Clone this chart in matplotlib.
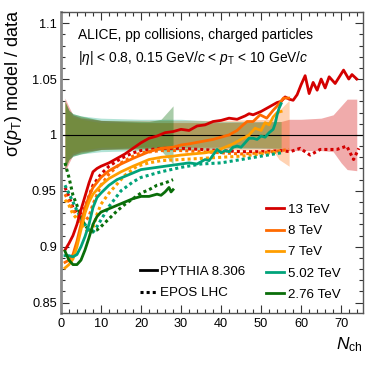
import numpy as np
import matplotlib
matplotlib.use('Agg')
import matplotlib.pyplot as plt
from matplotlib.lines import Line2D
from matplotlib.ticker import MultipleLocator

plt.rcParams['font.family'] = ['Liberation Sans', 'DejaVu Sans']
plt.rcParams['mathtext.fontset'] = 'custom'
plt.rcParams['mathtext.rm'] = 'Liberation Sans'
plt.rcParams['mathtext.it'] = 'Liberation Sans:italic'

energies = ['13 TeV', '8 TeV', '7 TeV', '5.02 TeV', '2.76 TeV']
colors = ['#d40000', '#ff6a00', '#ff9e00', '#00a37a', '#0a6e0a']

# PYTHIA 8.306 / data
py_x = {
    '13 TeV': [1, 2, 3, 4, 5, 6, 7, 8, 9, 10, 12, 14, 16, 18, 20, 22, 24, 26, 28, 30, 32, 34, 36, 38, 40, 42, 44, 46, 47,
               48, 50, 51.5, 53, 54, 55, 56, 57, 58, 59, 60, 61, 62, 63, 64, 65, 66, 67, 68.5, 70.6, 71.9, 72.7, 73.9],
    '8 TeV': [1, 2, 3, 4, 5, 6, 7, 8, 10, 12, 15, 18, 20, 22, 25, 28, 30, 32, 35, 38, 40, 42, 44, 45.5, 46.5, 48,
              49.75, 51.4, 53, 54.3, 55.6, 56.9],
    '7 TeV': [1, 2, 3, 4, 5, 6, 7, 8, 10, 12, 15, 18, 20, 22, 25, 28, 30, 33, 36, 39, 41, 43, 45, 47, 48.5, 50, 51,
              52, 53, 54, 55],
    '5.02 TeV': [1, 2, 3, 4, 5, 6, 7, 8, 9, 10, 12, 14, 16, 18, 20, 22, 24, 26, 28, 30, 32, 34, 36, 37, 38, 39, 40,
                 41, 42, 43, 44, 45, 46, 47, 48, 49, 50, 51, 52, 53, 53.5, 54, 54.5, 55],
    '2.76 TeV': [1, 2, 3, 4, 5, 6, 7, 8, 9, 10, 12, 14, 16, 18, 20, 22, 24, 25, 26, 27, 27.5, 28],
}
py_y = {
    '13 TeV': [0.897, 0.903, 0.910, 0.920, 0.933, 0.945, 0.957, 0.967, 0.970, 0.972, 0.975, 0.979, 0.983, 0.988, 0.993,
               0.997, 0.999, 1.002, 1.003, 1.005, 1.004, 1.008, 1.009, 1.012, 1.013, 1.015, 1.014, 1.017, 1.019,
               1.018, 1.021, 1.024, 1.027, 1.029, 1.030, 1.034, 1.032, 1.031, 1.036, 1.045, 1.053, 1.037, 1.047,
               1.040, 1.050, 1.042, 1.052, 1.046, 1.058, 1.050, 1.054, 1.050],
    '8 TeV': [0.886, 0.888, 0.893, 0.905, 0.920, 0.935, 0.945, 0.953, 0.962, 0.968, 0.974, 0.979, 0.982, 0.985, 0.988,
              0.989, 0.991, 0.992, 0.994, 0.996, 0.998, 1.000, 1.004, 1.009, 1.012, 1.012, 1.018, 1.015, 1.022,
              1.027, 1.033, 1.033],
    '7 TeV': [0.881, 0.884, 0.889, 0.900, 0.915, 0.930, 0.940, 0.947, 0.955, 0.961, 0.967, 0.972, 0.975, 0.978, 0.980,
              0.981, 0.982, 0.983, 0.984, 0.986, 0.989, 0.992, 0.996, 1.000, 1.006, 1.004, 1.011, 1.009, 1.016,
              1.020, 1.021],
    '5.02 TeV': [0.892, 0.892, 0.891, 0.893, 0.900, 0.909, 0.920, 0.935, 0.944, 0.948, 0.955, 0.960, 0.963, 0.966,
                 0.969, 0.970, 0.971, 0.972, 0.973, 0.974, 0.975, 0.974, 0.978, 0.977, 0.982, 0.987, 0.984, 0.986,
                 0.985, 0.989, 0.990, 0.989, 0.993, 0.997, 0.997, 0.996, 0.999, 0.998, 1.002, 1.005, 1.010, 1.018,
                 1.024, 1.028],
    '2.76 TeV': [0.896, 0.888, 0.884, 0.884, 0.888, 0.897, 0.908, 0.920, 0.927, 0.931, 0.934, 0.937, 0.940, 0.943,
                 0.945, 0.945, 0.947, 0.946, 0.949, 0.953, 0.949, 0.951],
}

# EPOS LHC / data
ep_x = {
    '13 TeV': [1, 2, 3, 4, 5, 6, 7, 8, 10, 12, 15, 18, 20, 25, 30, 35, 40, 45, 50, 55, 57.25, 59.75, 62.25, 64.75,
               68.9, 71.4, 72.25, 73.1, 74.4],
    '8 TeV': [1, 2, 3, 4, 5, 6, 7, 8, 10, 12, 15, 18, 20, 25, 30, 35, 40, 45, 50, 55, 57],
    '7 TeV': [1, 2, 3, 5, 7, 8, 9, 10, 12, 14, 16, 19, 22, 25, 30, 35, 40, 45, 50, 55],
    '5.02 TeV': [1, 3, 5, 7, 8, 9, 10, 12, 15, 18, 20, 25, 30, 35, 40, 45, 50, 55],
    '2.76 TeV': [1, 2, 3, 4, 5, 6, 7, 8, 9, 10, 12, 14, 16, 18, 20, 22, 24, 26, 28],
}
ep_y = {
    '13 TeV': [0.953, 0.945, 0.935, 0.930, 0.930, 0.935, 0.945, 0.955, 0.965, 0.972, 0.979, 0.984, 0.986, 0.988,
               0.988, 0.987, 0.986, 0.985, 0.985, 0.986, 0.985, 0.988, 0.982, 0.987, 0.987, 0.990, 0.984, 0.978,
               0.988],
    '8 TeV': [0.947, 0.940, 0.933, 0.928, 0.924, 0.923, 0.927, 0.938, 0.955, 0.965, 0.975, 0.981, 0.984, 0.986,
              0.986, 0.985, 0.984, 0.983, 0.984, 0.986, 0.987],
    '7 TeV': [0.942, 0.937, 0.929, 0.921, 0.912, 0.917, 0.929, 0.938, 0.948, 0.956, 0.964, 0.972, 0.975, 0.977,
              0.978, 0.979, 0.980, 0.981, 0.983, 0.985],
    '5.02 TeV': [0.955, 0.940, 0.925, 0.915, 0.913, 0.918, 0.924, 0.936, 0.950, 0.958, 0.962, 0.967, 0.971, 0.974,
                 0.975, 0.978, 0.981, 0.984],
    '2.76 TeV': [0.975, 0.962, 0.946, 0.937, 0.926, 0.919, 0.915, 0.914, 0.915, 0.918, 0.925, 0.932, 0.938, 0.943,
                 0.948, 0.951, 0.955, 0.957, 0.960],
}

# data uncertainty bands (relative), upper and lower edges
band_x = {
    '13 TeV': [1, 2, 3, 5, 10, 20, 40, 55, 57, 60, 65, 68, 70, 71.5, 73.9],
    '8 TeV': [1, 2, 3, 5, 10, 20, 40, 53, 54.5, 57],
    '7 TeV': [1, 2, 3, 5, 10, 20, 40, 50, 55],
    '5.02 TeV': [1, 2, 3, 5, 10, 20, 30, 40, 55],
    '2.76 TeV': [1, 2, 3, 5, 10, 22, 25, 26.5, 28],
}
band_hi = {
    '13 TeV': [1.033, 1.025, 1.018, 1.015, 1.013, 1.011, 1.011, 1.012, 1.014, 1.014, 1.015, 1.018, 1.026, 1.032, 1.032],
    '8 TeV': [1.030, 1.022, 1.018, 1.016, 1.013, 1.013, 1.013, 1.014, 1.022, 1.031],
    '7 TeV': [1.030, 1.020, 1.016, 1.014, 1.011, 1.011, 1.011, 1.011, 1.012],
    '5.02 TeV': [1.030, 1.022, 1.019, 1.017, 1.015, 1.014, 1.014, 1.012, 1.012],
    '2.76 TeV': [1.030, 1.022, 1.019, 1.017, 1.013, 1.012, 1.014, 1.020, 1.026],
}
band_lo = {
    '13 TeV': [0.967, 0.975, 0.982, 0.985, 0.987, 0.989, 0.989, 0.988, 0.986, 0.986, 0.986, 0.985, 0.975, 0.969, 0.968],
    '8 TeV': [0.970, 0.978, 0.982, 0.984, 0.987, 0.987, 0.987, 0.986, 0.978, 0.972],
    '7 TeV': [0.970, 0.980, 0.984, 0.986, 0.989, 0.989, 0.989, 0.989, 0.988],
    '5.02 TeV': [0.970, 0.978, 0.981, 0.983, 0.985, 0.986, 0.986, 0.988, 0.988],
    '2.76 TeV': [0.970, 0.978, 0.981, 0.983, 0.987, 0.988, 0.986, 0.980, 0.974],
}
band_alpha = [0.33, 0.3, 0.3, 0.3, 0.35]

fig = plt.figure(figsize=(3.74, 3.74), dpi=100)
ax = fig.add_axes([0.163, 0.164, 0.807, 0.804])

for e, c, a in zip(energies, colors, band_alpha):
    ax.fill_between(band_x[e], band_lo[e], band_hi[e], color=c, alpha=a, lw=0)

ax.axhline(1, color='black', lw=0.8)

for e, c in zip(energies, colors):
    ax.plot(ep_x[e], ep_y[e], color=c, lw=2.2, linestyle=(0, (1, 1)), dash_capstyle='butt')
for e, c in zip(energies, colors):
    ax.plot(py_x[e], py_y[e], color=c, lw=2.0)

ax.set_xlim(0, 75.4)
ax.set_ylim(0.841, 1.11)
ax.xaxis.set_major_locator(MultipleLocator(10))
ax.xaxis.set_minor_locator(MultipleLocator(2))
ax.yaxis.set_major_locator(MultipleLocator(0.05))
ax.yaxis.set_minor_locator(MultipleLocator(0.01))
ax.yaxis.set_major_formatter(plt.FuncFormatter(lambda v, p: ('%.2f' % v).rstrip('0').rstrip('.')))
ax.tick_params(which='both', direction='in', top=True, right=True, color='#333333', labelsize=9.2)
ax.tick_params(which='major', length=5.8, width=0.8)
ax.tick_params(which='minor', length=2.9, width=0.8)
ax.tick_params(axis='y', pad=3)
ax.tick_params(axis='x', pad=4)
for s in ax.spines.values():
    s.set_color('#555555')
    s.set_linewidth(1.0)
ax.spines['left'].set_color('#8a8a8a')
ax.spines['left'].set_linewidth(2.0)

ax.text(0.056, 0.922, 'ALICE, pp collisions, charged particles', transform=ax.transAxes,
        fontsize=9.9, va='center', ha='left')
ax.text(0.056, 0.846, r'$|\eta|$ < 0.8, 0.15 GeV/$c$ < $p_{\rm T}$ < 10 GeV/$c$', transform=ax.transAxes,
        fontsize=9.9, va='center', ha='left')

fig.text(0.035, 0.973, r'σ($p_{\rm T}$) model / data', rotation=90, ha='center', va='top', fontsize=13)
ax.set_xlabel(r'$N_{\rm ch}$', fontsize=12.5, loc='right')
ax.xaxis.set_label_coords(1.0, -0.075)

h1 = [Line2D([], [], color=c, lw=2.0) for c in colors]
leg1 = ax.legend(h1, energies, loc='upper left', bbox_to_anchor=(0.68, 0.362), frameon=False,
                 fontsize=9.6, handlelength=1.35, handletextpad=0.25, labelspacing=0.66, borderpad=0,
                 borderaxespad=0)
ax.add_artist(leg1)
h2 = [Line2D([], [], color='black', lw=2.0),
      Line2D([], [], color='black', lw=2.2, linestyle=(0, (1, 1)))]
ax.legend(h2, ['PYTHIA 8.306', 'EPOS LHC'], loc='upper left', bbox_to_anchor=(0.262, 0.156), frameon=False,
          fontsize=9.6, handlelength=1.25, handletextpad=0.25, labelspacing=0.66, borderpad=0, borderaxespad=0)

fig.savefig('out.png', dpi=100)
